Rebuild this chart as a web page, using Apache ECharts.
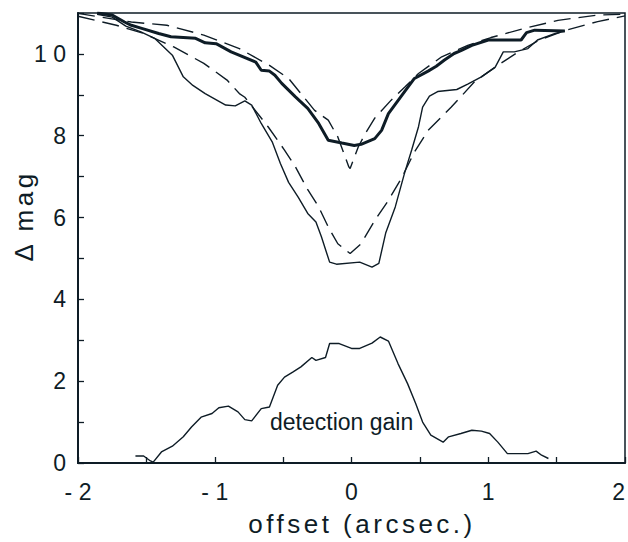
<!DOCTYPE html>
<html>
<head>
<meta charset="utf-8">
<script src="https://cdn.jsdelivr.net/npm/echarts@6/dist/echarts.min.js"></script>
<style>
    html, body { margin: 0; padding: 0; background: #fff; }
    #chart { width: 628px; height: 542px; }
</style>
</head>
<body>
<div id="chart"></div>
<script type="text/javascript">
    // offset (arcsec.) , delta mag
    var thickProfile = [[-1.86, 11.0], [-1.75, 10.95], [-1.66, 10.78], [-1.61, 10.70], [-1.54, 10.63], [-1.41, 10.50],
        [-1.32, 10.42], [-1.14, 10.38], [-1.07, 10.27], [-0.99, 10.25], [-0.88, 10.05], [-0.70, 9.80], [-0.66, 9.60],
        [-0.60, 9.58], [-0.56, 9.48], [-0.51, 9.28], [-0.41, 8.95], [-0.32, 8.67], [-0.24, 8.30], [-0.17, 7.89],
        [-0.07, 7.82], [0.02, 7.76], [0.07, 7.79], [0.17, 7.93], [0.22, 8.13], [0.27, 8.54], [0.36, 8.95], [0.46, 9.40],
        [0.56, 9.58], [0.62, 9.70], [0.68, 9.85], [0.75, 10.01], [0.80, 10.08], [0.88, 10.21], [1.00, 10.34],
        [1.24, 10.34], [1.28, 10.52], [1.34, 10.58], [1.56, 10.56]];
    var thinProfile = [[-1.86, 10.97], [-1.75, 10.90], [-1.65, 10.68], [-1.54, 10.54], [-1.44, 10.38], [-1.31, 9.97],
        [-1.23, 9.44], [-1.16, 9.23], [-1.07, 9.03], [-0.92, 8.75], [-0.85, 8.73], [-0.78, 8.85], [-0.73, 8.75],
        [-0.66, 8.30], [-0.58, 7.85], [-0.52, 7.32], [-0.46, 6.86], [-0.39, 6.50], [-0.32, 6.10], [-0.26, 5.89],
        [-0.22, 5.53], [-0.16, 4.91], [-0.11, 4.86], [0.06, 4.91], [0.15, 4.79], [0.20, 4.88], [0.25, 5.62],
        [0.32, 6.26], [0.39, 7.11], [0.44, 7.65], [0.49, 8.22], [0.52, 8.70], [0.57, 8.97], [0.63, 9.08],
        [0.77, 9.13], [0.85, 9.26], [0.95, 9.44], [1.05, 9.67], [1.11, 10.05], [1.19, 10.05], [1.29, 10.13],
        [1.36, 10.34], [1.49, 10.50], [1.56, 10.56]];
    var narrowModel = [[-2.0, 10.99], [-1.61, 10.78], [-1.35, 10.70], [-1.08, 10.46], [-0.82, 10.13], [-0.60, 9.72],
        [-0.46, 9.40], [-0.27, 8.62], [-0.17, 8.38], [-0.10, 7.97], [-0.02, 7.24], [-0.01, 7.20], [0.05, 7.73],
        [0.10, 8.05], [0.17, 8.43], [0.29, 8.87], [0.39, 9.19], [0.49, 9.52], [0.66, 9.93], [0.85, 10.21],
        [1.02, 10.40], [1.27, 10.63], [1.51, 10.82], [1.80, 10.95], [2.0, 10.97]];
    var broadModel = [[-2.0, 10.92], [-1.72, 10.70], [-1.52, 10.50], [-1.30, 10.17], [-1.08, 9.77], [-0.91, 9.36],
        [-0.82, 9.03], [-0.78, 8.94], [-0.61, 8.22], [-0.49, 7.65], [-0.41, 7.24], [-0.32, 6.68], [-0.24, 6.26],
        [-0.17, 5.77], [-0.10, 5.36], [-0.01, 5.12], [0.07, 5.36], [0.17, 5.93], [0.27, 6.42], [0.37, 6.99],
        [0.46, 7.60], [0.56, 8.13], [0.73, 8.70], [0.90, 9.32], [1.06, 9.70], [1.22, 10.05], [1.38, 10.35],
        [1.57, 10.58], [1.80, 10.79], [2.0, 10.93]];
    var detectionGain = [[-1.58, 0.17], [-1.52, 0.17], [-1.47, 0.05], [-1.45, 0.02], [-1.39, 0.27], [-1.31, 0.41],
        [-1.23, 0.64], [-1.17, 0.88], [-1.10, 1.12], [-1.02, 1.21], [-0.97, 1.35], [-0.90, 1.39], [-0.83, 1.25],
        [-0.78, 1.06], [-0.73, 1.03], [-0.66, 1.33], [-0.60, 1.37], [-0.54, 1.90], [-0.49, 2.10], [-0.43, 2.22],
        [-0.37, 2.35], [-0.29, 2.58], [-0.26, 2.51], [-0.19, 2.58], [-0.16, 2.92], [-0.09, 2.92], [0.0, 2.80],
        [0.06, 2.80], [0.15, 2.93], [0.21, 3.08], [0.27, 2.98], [0.34, 2.43], [0.41, 1.94], [0.47, 1.45],
        [0.52, 1.00], [0.58, 0.68], [0.67, 0.51], [0.71, 0.64], [0.80, 0.72], [0.88, 0.80], [0.95, 0.78],
        [1.01, 0.72], [1.07, 0.51], [1.14, 0.23], [1.29, 0.23], [1.35, 0.29], [1.39, 0.19], [1.44, 0.11]];

    var ink = '#0e1c26';
    var fnt = 'Liberation Sans';

    var myChart = echarts.init(document.getElementById('chart'), null, {renderer: 'svg'});
    var option = {
        animation: false,
        backgroundColor: '#fff',
        grid: {
            left: 78, top: 13, width: 547, height: 450,
            outerBoundsMode: 'none', containLabel: false,
            show: true, borderColor: ink, borderWidth: 1.5
        },
        xAxis: {
            type: 'value', min: -2, max: 2, interval: 0.5,
            axisLine: {onZero: false, lineStyle: {color: ink, width: 2}},
            axisTick: {inside: true, length: 6, lineStyle: {color: ink, width: 1.3}},
            splitLine: {show: false},
            axisLabel: {
                color: ink, fontFamily: fnt, fontSize: 23, margin: 17,
                showMinLabel: true, showMaxLabel: true,
                alignMinLabel: 'center', alignMaxLabel: 'right',
                formatter: function (v) {
                    if (Math.abs(v - Math.round(v)) > 0.01) return '';
                    return v < 0 ? '- ' + Math.abs(v) : String(v);
                }
            }
        },
        yAxis: {
            type: 'value', min: 0, max: 11, interval: 1,
            axisLine: {show: true, onZero: false, lineStyle: {color: ink, width: 2}},
            axisTick: {show: true, inside: true, length: 6, lineStyle: {color: ink, width: 1.3}},
            splitLine: {show: false},
            axisLabel: {
                color: ink, fontFamily: fnt, fontSize: 23, margin: 12,
                formatter: function (v) {
                    if (v % 2 !== 0) return '';
                    return v === 10 ? '1 0' : String(v);
                }
            }
        },
        graphic: [
            {type: 'text', x: 362, y: 524, style: {text: 'offset (arcsec.)', font: '26px "Liberation Sans"', fill: ink, align: 'center', verticalAlign: 'middle'}},
            {type: 'text', x: 24, y: 216, rotation: Math.PI / 2, style: {text: 'Δ mag', font: '26px "Liberation Sans"', fill: ink, align: 'center', verticalAlign: 'middle'}},
            {type: 'text', x: 270, y: 422, style: {text: 'detection gain', font: '23px "Liberation Sans"', fill: ink, align: 'left', verticalAlign: 'middle'}}
        ],
        series: [
            {name: 'broad', type: 'line', data: broadModel, showSymbol: false, lineStyle: {color: ink, width: 1.4, type: [17, 8]}},
            {name: 'narrow', type: 'line', data: narrowModel, showSymbol: false, lineStyle: {color: ink, width: 1.4, type: [17, 8]}},
            {name: 'thin', type: 'line', data: thinProfile, showSymbol: false, lineStyle: {color: ink, width: 1.4}},
            {name: 'thick', type: 'line', data: thickProfile, showSymbol: false, lineStyle: {color: ink, width: 3}},
            {name: 'gain', type: 'line', data: detectionGain, showSymbol: false, lineStyle: {color: ink, width: 1.4}}
        ]
    };
    myChart.setOption(option);

    // the axis titles are spread out in the original
    function spreadTitles() {
        var nodes = document.querySelectorAll('#chart text');
        for (var i = 0; i < nodes.length; i++) {
            var t = nodes[i].textContent;
            if (t === 'offset (arcsec.)' || t === 'Δ mag') {
                nodes[i].setAttribute('letter-spacing', '3.5');
            }
        }
    }
    myChart.on('finished', spreadTitles);
    setTimeout(spreadTitles, 50);
</script>
</body>
</html>
